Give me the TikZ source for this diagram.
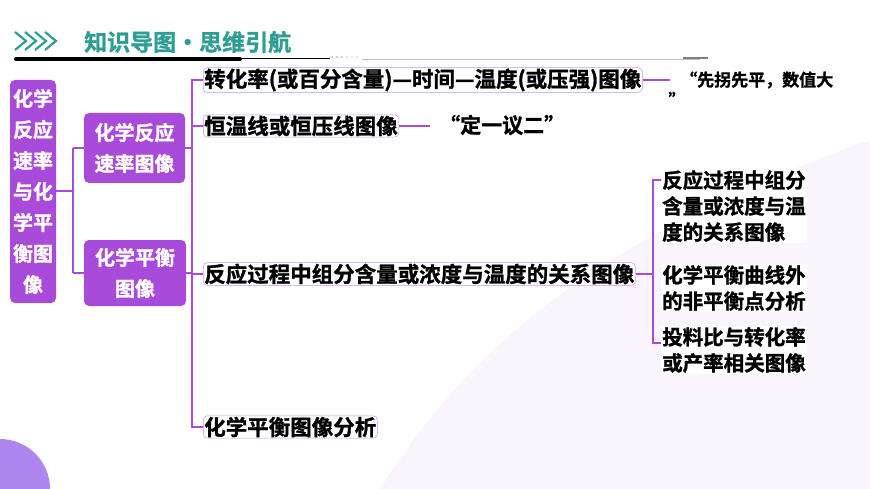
\documentclass[tikz,border=0pt]{standalone}
\usepackage{fontspec}
\setmainfont{Noto Sans CJK SC}[BoldFont=* Bold,BoldFeatures={FakeBold=1.2}]
\begin{document}
\begin{tikzpicture}[x=1pt,y=-1pt,
  pp/.style={fill=purp,rounded corners=5pt,text=white,font=\bfseries\fontsize{20}{31}\selectfont,align=center,inner sep=2pt},
  lf/.style={draw=purp!60,line width=0.5pt,fill=white,rounded corners=4pt,font=\bfseries\fontsize{21.5}{24}\selectfont,inner sep=1pt,anchor=west},
  sub/.style={fill=white,font=\bfseries\fontsize{20.5}{26}\selectfont,align=left,inner sep=1pt,anchor=west},
  cn/.style={draw=purp,line width=2pt}]
\definecolor{purp}{HTML}{A84BDB}
\definecolor{teal}{HTML}{2E9E92}
\useasboundingbox (0,0) rectangle (870,489);
\fill[white] (0,0) rectangle (870,489);
\fill[purp!6] (870,140) .. controls (620,230) and (480,330) .. (380,489) -- (870,489) -- cycle;
\begin{scope}
\clip (0,0) rectangle (870,489);
\fill[purp!70!blue!60] (0,489) circle (50);
\end{scope}
% title
\foreach \i in {0,10,20,30}
  \draw[teal,line width=2.2pt] (15+\i,32) -- (26+\i,41) -- (15+\i,50);
\node[text=teal,font=\bfseries\fontsize{23}{24}\selectfont,anchor=west,inner sep=0] (title) at (84,42) {知识导图·思维引航};
\draw[line width=4pt,line cap=round] (16,59) -- (240,59);
\draw[line width=1pt] (240,59) -- (330,59);
\node[font=\tiny,inner sep=0] (d1) at (337,58) {•••};
\node[font=\tiny,inner sep=0,text=gray] (d2) at (352,58) {•••};
\draw[gray!50,line width=0.6pt] (362,59) -- (700,59);
\draw[gray,line width=2pt] (683,58) -- (708,58);
% nodes
\node[pp,minimum width=46pt,minimum height=223pt] (root) at (33,191.5) {化学\\反应\\速率\\与化\\学平\\衡图\\像};
\node[pp,minimum width=101pt,minimum height=70pt] (b1) at (134.5,148) {化学反应\\速率图像};
\node[pp,minimum width=102pt,minimum height=66pt] (b2) at (135,273) {化学平衡\\图像};
\node[lf] (a) at (203,80) {转化率(或百分含量)—时间—温度(或压强)图像};
\node[lf] (b) at (203,126) {恒温线或恒压线图像};
\node[lf] (c) at (203,274) {反应过程中组分含量或浓度与温度的关系图像};
\node[lf] (d) at (203,427) {化学平衡图像分析};
\node[anchor=west,font=\bfseries\fontsize{17}{18}\selectfont,inner sep=1pt] (qa) at (679,80) {“先拐先平，数值大};
\node[font=\bfseries\fontsize{17}{18}\selectfont,inner sep=0] (qa2) at (677,99) {”};
\node[anchor=west,font=\bfseries\fontsize{21}{22}\selectfont,inner sep=1pt] (qb) at (438,125) {“定一议二”};
\node[sub] (s1) at (661,206) {反应过程中组分\\含量或浓度与温\\度的关系图像};
\node[sub] (s2) at (661,288) {化学平衡曲线外\\的非平衡点分析};
\node[sub] (s3) at (661,350) {投料比与转化率\\或产率相关图像};
% connectors
\draw[cn] (root.east) -- (73,191.5);
\draw[cn] (73,148) -- (73,273);
\draw[cn] (73,148) -- (b1.west);
\draw[cn] (73,273) -- (b2.west);
\draw[cn] (b1.east) -- (192,148);
\draw[cn] (b2.east) -- (192,273);
\draw[cn] (a.west) -- (192,80) -- (192,427) -- (d.west);
\draw[cn] (192,126) -- (b.west);
\draw[cn] (192,274) -- (c.west);
\draw[cn] (a.east) -- (670,80);
\draw[cn] (b.east) -- (430,126);
\draw[cn] (c.east) -- (653,274);
\draw[cn] (s1.west |- 0,180) -- (653,180) -- (653,343) -- (s3.west |- 0,343);
\end{tikzpicture}
\end{document}
